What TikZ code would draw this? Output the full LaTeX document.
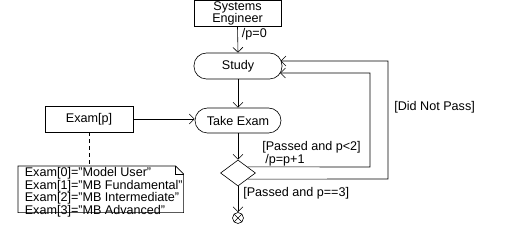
\documentclass[tikz,border=0pt]{standalone}
\usepackage{fontspec}
\setmainfont{Liberation Sans}
\usetikzlibrary{shapes.geometric,arrows.meta,calc}
\begin{document}
\begin{tikzpicture}[x=1pt,y=-1pt,
  font=\fontsize{12.6}{13}\selectfont,
  line width=0.6pt,
  box/.style={draw,rectangle,inner sep=0,align=center,font=\fontsize{12.6}{12.5}\selectfont},
  act/.style={draw,rectangle,rounded corners=12.5pt,inner sep=0,align=center},
  arr/.style={-{Straight Barb[length=5pt,width=10pt,line width=0.6pt]}},
  lbl/.style={inner sep=0,anchor=west}]
\useasboundingbox (0,0) rectangle (525,232);
\node[box,minimum width=87,minimum height=26] (se) at (237.5,13.5) {Systems\\Engineer};
\node[act,minimum width=88,minimum height=26] (study) at (238,66) {Study};
\node[act,minimum width=86,minimum height=25] (take) at (238,120.5) {Take Exam};
\node[box,minimum width=88,minimum height=26] (exam) at (89,119) {Exam[p]};
\node[draw,diamond,minimum width=35,minimum height=26,inner sep=0] (dec) at (238,173) {};
\node[draw,circle,minimum size=11,inner sep=0] (fin) at (238,218) {};
\draw (fin.north west) -- (fin.south east) (fin.north east) -- (fin.south west);
% note
\node[inner sep=0,minimum width=165,minimum height=46,anchor=north west] (note) at (18,166) {};
\draw (note.north west) -- ($(note.north east)+(-8,0)$) -- ($(note.north east)+(0,8)$) -- (note.south east) -- (note.south west) -- cycle;
\draw ($(note.north east)+(-8,0)$) -- ($(note.north east)+(-8,8)$) -- ($(note.north east)+(0,8)$);
\node[lbl,anchor=north west,align=left,font=\fontsize{12.6}{11.5}\selectfont] (notetext) at (24.5,167) {Exam[0]="Model User"\\Exam[1]="MB Fundamental"\\Exam[2]="MB Intermediate"\\Exam[3]="MB Advanced"};
\draw[dashed,dash pattern=on 4pt off 3pt] (exam.south) -- (exam.south |- note.north);
% connectors
\draw[arr] (se.south) -- node[lbl,pos=0.3,xshift=4pt] (l0) {/p=0} (study.north);
\draw[arr] (study.south) -- (take.north);
\draw[arr] (take.south) -- (dec.north);
\draw[arr] (dec.south) -- (fin.north);
\draw[arr] (exam.east) -- (exam.east -| take.west);
\coordinate (du) at ($(dec.east)!0.46!(dec.north)$);
\coordinate (dl) at ($(dec.east)!0.46!(dec.south)$);
\coordinate (ci) at (280,73);
\coordinate (co) at (280.5,61);
\draw[arr] (du) -- (370,167) -- (370,73) -- (ci);
\draw[arr] (dl) -- (388,179) -- (388,61) -- (co);
\node[lbl] (l1) at (262,147.5) {[Passed and p<2]};
\node[lbl] (l2) at (265,160.5) {/p=p+1};
\node[lbl] (l3) at (394,107) {[Did Not Pass]};
\node[lbl] (l4) at (243,193) {[Passed and p==3]};
\end{tikzpicture}
\end{document}
